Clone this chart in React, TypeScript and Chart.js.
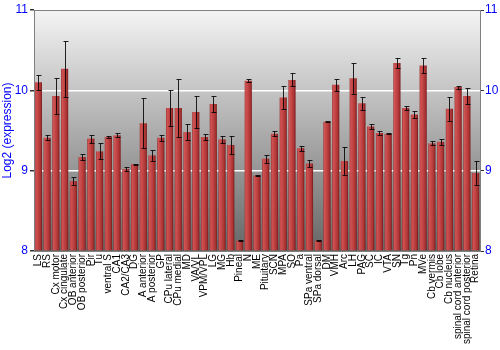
import React, { useEffect, useRef } from "react";
import { Chart, registerables } from "chart.js";

Chart.register(...registerables);

const categories = [
  "LS", "RS", "Cx motor", "Cx cingulate", "OB anterior", "OB posterior", "Pir", "Tu",
  "ventral S", "CA1", "CA2/CA3", "DG", "A anterior", "A posterior", "GP", "CPu lateral",
  "CPu medial", "MD", "VA/VL", "VPM/VPL", "LG", "MG", "Hb", "Pineal", "N", "ME",
  "Pituitary", "SCN", "MPA", "SO", "Pa", "SPa ventral", "SPa dorsal", "DM", "VMH", "Arc",
  "LH", "PAG", "SC", "IC", "VTA", "SN", "Tg", "Pn", "MVe", "Cb vermis", "Cb lobe",
  "Cb nucleus", "spinal cord anterior", "spinal cord posterior", "Retina",
];

const values = [
  10.10, 9.41, 9.93, 10.27, 8.87, 9.17, 9.40, 9.24,
  9.42, 9.44, 9.02, 9.08, 9.59, 9.19, 9.41, 9.78,
  9.78, 9.48, 9.73, 9.42, 9.83, 9.39, 9.32, 8.13, 10.12, 8.94,
  9.15, 9.46, 9.91, 10.13, 9.28, 9.09, 8.13, 9.61, 10.07, 9.12,
  10.15, 9.84, 9.55, 9.47, 9.46, 10.34, 9.78, 9.70, 10.31, 9.34, 9.36,
  9.77, 10.04, 9.93, 8.97,
];

const errors = [
  0.09, 0.03, 0.22, 0.35, 0.05, 0.04, 0.05, 0.10,
  0.01, 0.025, 0.025, 0.005, 0.31, 0.07, 0.035, 0.22,
  0.36, 0.095, 0.205, 0.04, 0.10, 0.045, 0.11, 0.01, 0.02, 0.005,
  0.05, 0.03, 0.14, 0.08, 0.03, 0.04, 0.01, 0.01, 0.075, 0.18,
  0.19, 0.08, 0.03, 0.02, 0.005, 0.06, 0.02, 0.04, 0.09, 0.025, 0.035,
  0.15, 0.02, 0.10, 0.15,
];

const yTicks = [8, 9, 10, 11];

const FONT = "'Liberation Sans', Arial, sans-serif";

const decorPlugin = {
  id: "decor",
  beforeDraw(chart: any) {
    const { ctx, chartArea } = chart;
    const { left, top, right, bottom } = chartArea;
    const g = ctx.createLinearGradient(0, top, 0, bottom);
    g.addColorStop(0, "#f4f4f4");
    g.addColorStop(1, "#666666");
    ctx.save();
    ctx.fillStyle = g;
    ctx.fillRect(left, top, right - left, bottom - top);
    ctx.restore();
  },
  beforeDatasetsDraw(chart: any) {
    const { ctx } = chart;
    const meta = chart.getDatasetMeta(0);
    meta.data.forEach((el: any) => {
      const { x, width } = el.getProps(["x", "width"], true);
      const l = x - width / 2;
      const g = ctx.createLinearGradient(l, 0, l + width, 0);
      g.addColorStop(0, "#9a2e2e");
      g.addColorStop(0.15, "#d05454");
      g.addColorStop(0.45, "#c24444");
      g.addColorStop(0.8, "#a83232");
      g.addColorStop(1, "#761818");
      el.options = Object.assign({}, el.options, { backgroundColor: g });
    });
  },
  afterDatasetsDraw(chart: any) {
    const { ctx } = chart;
    const yScale = chart.scales.y;
    const meta = chart.getDatasetMeta(0);
    ctx.save();
    ctx.strokeStyle = "rgba(0,0,0,0.85)";
    ctx.lineWidth = 1;
    meta.data.forEach((el: any, i: number) => {
      const { x } = el.getProps(["x"], true);
      const v = values[i];
      const e = errors[i];
      const yTop = Math.round(yScale.getPixelForValue(v + e)) + 0.5;
      const yBot = Math.round(yScale.getPixelForValue(v - e)) + 0.5;
      const cx = Math.round(x) + 0.5;
      ctx.beginPath();
      ctx.moveTo(cx, yTop);
      ctx.lineTo(cx, yBot);
      ctx.moveTo(cx - 2, yTop);
      ctx.lineTo(cx + 3, yTop);
      ctx.moveTo(cx - 2, yBot);
      ctx.lineTo(cx + 3, yBot);
      ctx.stroke();
    });
    ctx.restore();
  },
  afterDraw(chart: any) {
    const { ctx, chartArea } = chart;
    const { left, top, right, bottom } = chartArea;
    ctx.save();
    ctx.strokeStyle = "#808080";
    ctx.lineWidth = 1;
    ctx.strokeRect(Math.round(left) + 0.5, Math.round(top) + 0.5, Math.round(right - left), Math.round(bottom - top));
    ctx.restore();
  },
};

export default function App() {
  const ref = useRef<HTMLCanvasElement>(null);

  useEffect(() => {
    document.body.style.margin = "0";
    const canvas = ref.current;
    if (!canvas) return;
    const chart = new Chart(canvas, {
      type: "bar",
      data: {
        labels: categories,
        datasets: [
          {
            data: values,
            backgroundColor: () => "#c24444",
            borderWidth: 0,
            categoryPercentage: 1,
            barPercentage: 0.82,
            base: 8,
          } as any,
        ],
      },
      options: {
        animation: false,
        responsive: false,
        maintainAspectRatio: false,
        layout: { padding: { top: 10, left: 0, right: 0, bottom: 0 } },
        plugins: { legend: { display: false }, tooltip: { enabled: false } },
        scales: {
          x: {
            grid: { display: false, drawTicks: false },
            border: { display: false },
            ticks: {
              autoSkip: false,
              minRotation: 90,
              maxRotation: 90,
              padding: 3,
              color: "#000",
              font: { family: FONT, size: 10 },
            },
            afterFit(scale: any) {
              scale.height = 99;
            },
          },
          y: {
            position: "left",
            min: 8,
            max: 11,
            afterBuildTicks(scale: any) {
              scale.ticks = yTicks.map((v) => ({ value: v }));
            },
            grid: {
              color: (ctx: any) =>
                ctx.tick && (ctx.tick.value === 9 || ctx.tick.value === 10) ? "#ffffff" : "rgba(0,0,0,0)",
              tickColor: "#333",
              tickLength: 4,
              lineWidth: 1.5,
            },
            border: { display: true, color: "#808080" },
            ticks: {
              color: "#0000ff",
              padding: 2,
              font: { family: FONT, size: 12 },
            },
            title: {
              display: true,
              text: "Log2 (expression)",
              color: "#0000ff",
              font: { family: FONT, size: 12 },
              padding: 0,
            },
            afterFit(scale: any) {
              scale.width = 34;
            },
          },
          y2: {
            position: "right",
            min: 8,
            max: 11,
            afterBuildTicks(scale: any) {
              scale.ticks = yTicks.map((v) => ({ value: v }));
            },
            grid: { drawOnChartArea: false, tickColor: "#333", tickLength: 4 },
            border: { display: true, color: "#808080" },
            ticks: {
              color: "#0000ff",
              padding: 1,
              font: { family: FONT, size: 12 },
            },
            afterFit(scale: any) {
              scale.width = 20;
            },
          },
        },
      } as any,
      plugins: [decorPlugin],
    });
    return () => chart.destroy();
  }, []);

  return (
    <div style={{ width: 500, height: 350 }}>
      <canvas ref={ref} width={500} height={350} style={{ display: "block" }} />
    </div>
  );
}
